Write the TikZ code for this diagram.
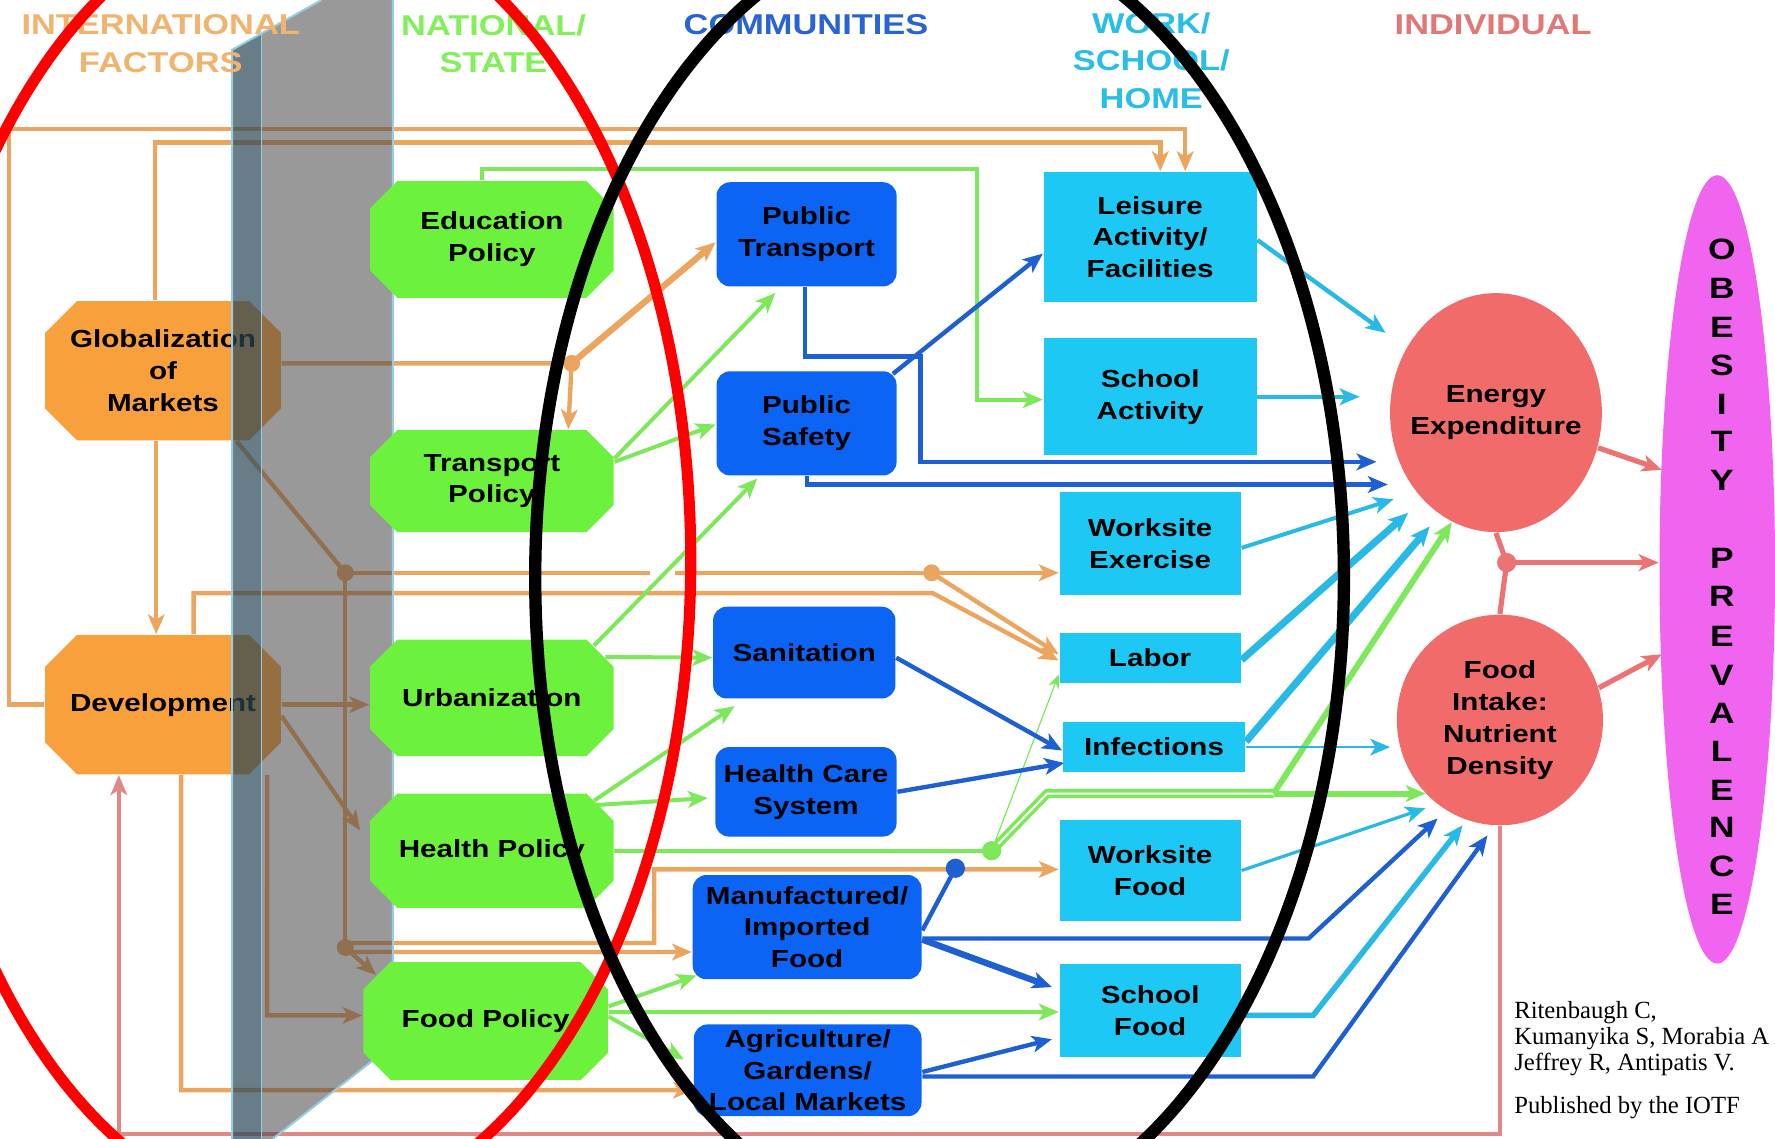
\documentclass[tikz,border=0pt]{standalone}
\usepackage{fontspec}
\newfontfamily\nodefam{Liberation Sans}[FakeStretch=1.2]
\newfontfamily\citefam{Liberation Serif}
\usetikzlibrary{arrows.meta,shapes.geometric}
\newcommand{\NodeFont}{\nodefam\bfseries\fontsize{6.2pt}{8pt}\selectfont}
\newcommand{\HeadFont}{\nodefam\bfseries\fontsize{7.2pt}{9.4pt}\selectfont}
\newcommand{\LetterFont}{\nodefam\bfseries\fontsize{7.4pt}{9pt}\selectfont}
\newcommand{\CiteFont}{\citefam\fontsize{6.2pt}{6.55pt}\selectfont}
\definecolor{cOrF}{RGB}{247,160,60}
\definecolor{cOrL}{RGB}{236,165,95}
\definecolor{cGrF}{RGB}{108,242,60}
\definecolor{cGrL}{RGB}{125,232,90}
\definecolor{cBlF}{RGB}{12,100,245}
\definecolor{cBlL}{RGB}{30,95,210}
\definecolor{cCyF}{RGB}{30,200,245}
\definecolor{cCyL}{RGB}{40,185,230}
\definecolor{cSal}{RGB}{242,107,107}
\definecolor{cSalL}{RGB}{235,115,115}
\definecolor{cPink}{RGB}{225,135,135}
\definecolor{cMag}{RGB}{240,100,240}
\definecolor{hOr}{RGB}{240,180,110}
\definecolor{hGr}{RGB}{130,240,90}
\definecolor{hBl}{RGB}{40,100,210}
\definecolor{hCy}{RGB}{40,190,230}
\definecolor{hRd}{RGB}{225,120,120}
\definecolor{wallF}{RGB}{70,70,70}
\definecolor{wallS}{RGB}{40,70,85}
\definecolor{wallE}{RGB}{150,205,225}
\pgfdeclarelayer{bgl}
\pgfdeclarelayer{wall}
\pgfdeclarelayer{lines}
\pgfdeclarelayer{fgl}
\pgfsetlayers{bgl,wall,lines,main,fgl}
\tikzset{
  octa/.style 2 args={rectangle, inner sep=0pt, align=center, font=\NodeFont, text=black,
    path picture={\fill[#1]
      ([xshift=#2]path picture bounding box.north west) --
      ([xshift=-#2]path picture bounding box.north east) --
      ([yshift=-#2]path picture bounding box.north east) --
      ([yshift=#2]path picture bounding box.south east) --
      ([xshift=-#2]path picture bounding box.south east) --
      ([xshift=#2]path picture bounding box.south west) --
      ([yshift=#2]path picture bounding box.south west) --
      ([yshift=-#2]path picture bounding box.north west) -- cycle;}},
  gocta/.style={octa={cGrF}{0.24cm}},
  oocta/.style={octa={cOrF}{0.28cm}},
  bbox/.style={rectangle, rounded corners=0.12cm, fill=cBlF, inner sep=0pt, align=center, font=\NodeFont, text=black},
  cbox/.style={rectangle, fill=cCyF, inner sep=0pt, align=center, font=\NodeFont, text=black},
  circ/.style={ellipse, fill=cSal, inner sep=0pt},
  txt/.style={align=center, font=\NodeFont, text=black, inner sep=0pt},
  head/.style={align=center, font=\HeadFont, inner sep=0pt},
  ol/.style={draw=cOrL, line width=1.1pt},
  gl/.style={draw=cGrL, line width=1pt},
  bl/.style={draw=cBlL, line width=1.1pt},
  cl/.style={draw=cCyL, line width=1.1pt},
  rl/.style={draw=cSalL, line width=1.3pt},
  pl/.style={draw=cPink, line width=1pt},
}
\begin{document}
\begin{tikzpicture}[x=0.01cm, y=-0.01cm, >={Stealth[length=5pt,width=4.2pt,inset=1.3pt]}]
\useasboundingbox (0,0) rectangle (1568,1006);

% ---------- headers ----------
\node[head, text=hOr] (hint) at (142,38.5) {INTERNATIONAL\\FACTORS};
\node[head, text=hGr] (hnat) at (436,38.5) {NATIONAL/\\STATE};
\node[head, text=hBl] (hcom) at (712,22) {COMMUNITIES};
\node[head, text=hCy] (hwrk) at (1017,53.5) {WORK/\\SCHOOL/\\HOME};
\node[head, text=hRd] (hind) at (1319,22) {INDIVIDUAL};

% ---------- national / state ----------
\node[gocta, minimum width=2.15cm, minimum height=1.03cm] (edu) at (434.5,211.5) {Education\\Policy};
\node[gocta, minimum width=2.15cm, minimum height=0.90cm] (tpol) at (434.5,425) {Transport\\Policy};
\node[gocta, minimum width=2.15cm, minimum height=1.03cm] (urb) at (434.5,616.5) {Urbanization};
\node[gocta, minimum width=2.15cm, minimum height=1.01cm] (hpol) at (434.5,751.5) {Health Policy};
\node[gocta, minimum width=2.16cm, minimum height=1.04cm] (fpol) at (429,902) {Food Policy};

% ---------- communities ----------
\node[bbox, minimum width=1.59cm, minimum height=0.92cm] (ptr) at (712.5,207) {Public\\Transport};
\node[bbox, minimum width=1.59cm, minimum height=0.92cm] (psf) at (712.5,374) {Public\\Safety};
\node[bbox, minimum width=1.61cm, minimum height=0.81cm] (san) at (710.5,576.5) {Sanitation};
\node[bbox, minimum width=1.60cm, minimum height=0.79cm] (hcs) at (712,699.5) {Health Care\\System};
\node[bbox, minimum width=2.02cm, minimum height=0.92cm] (mif) at (713,819) {Manufactured/\\Imported\\Food};
\node[bbox, minimum width=2.01cm, minimum height=0.81cm] (agr) at (713.5,945.5) {Agriculture/\\Gardens/\\Local Markets};

% ---------- work / school / home ----------
\node[cbox, minimum width=1.88cm, minimum height=1.15cm] (lei) at (1016,209.5) {Leisure\\Activity/\\Facilities};
\node[cbox, minimum width=1.88cm, minimum height=1.03cm] (sac) at (1016,350.5) {School\\Activity};
\node[cbox, minimum width=1.60cm, minimum height=0.91cm] (wex) at (1016,480.5) {Worksite\\Exercise};
\node[cbox, minimum width=1.60cm, minimum height=0.44cm] (lab) at (1016,581) {Labor};
\node[cbox, minimum width=1.61cm, minimum height=0.44cm] (inf) at (1019.5,660) {Infections};
\node[cbox, minimum width=1.60cm, minimum height=0.90cm] (wfo) at (1016,769) {Worksite\\Food};
\node[cbox, minimum width=1.60cm, minimum height=0.82cm] (sfo) at (1016,893) {School\\Food};

% ---------- individual ----------
\node[circ, minimum width=1.87cm, minimum height=2.11cm] (ene) at (1321.5,364.5) {};
\node[txt] (enet) at (ene.center) {Energy\\Expenditure};
\node[circ, minimum width=1.82cm, minimum height=1.86cm] (fin) at (1325,636) {};
\node[txt] (fint) at (fin.center) {Food\\Intake:\\Nutrient\\Density};
\node[ellipse, fill=cMag, inner sep=0pt, minimum width=1.02cm, minimum height=6.96cm] (obe) at (1517,503) {};
\foreach \l/\yy in {O/220,B/255,E/289,S/323,I/357,T/390,Y/424,P/493,R/527,E/562,V/597,A/630,L/664,E/698,N/731,C/765,E/799}
  \node[font=\LetterFont, inner sep=0pt] (ob\yy) at (1521,\yy) {\l};

\node[anchor=north west, align=left, font=\CiteFont, inner sep=0pt] (cite) at (1337,884)
  {Ritenbaugh C,\\Kumanyika S, Morabia A\\Jeffrey R, Antipatis V.\\[4.3pt]Published by the IOTF};

% ---------- international factors + orange connectors (behind wall) ----------
\begin{pgfonlayer}{bgl}
\node[oocta, minimum width=2.08cm, minimum height=1.23cm] (glob) at (144,327.5) {Globalization\\of\\Markets};
\node[oocta, minimum width=2.08cm, minimum height=1.23cm] (dev) at (144,622.5) {Development};
\coordinate (dA) at (505,321);
\coordinate (dB) at (305,506);
\coordinate (dC) at (823,506);
\coordinate (dD) at (305,837);
\coordinate (jmpL) at (574,506);
\coordinate (jmpR) at (596,506);
\draw[ol,->] (dev.west) -- (8,622.5) -- (8,114) -- (1047,114) -- (1047,0 |- lei.north);
\draw[ol,->] (137,0 |- glob.north) -- (137,126) -- (1025,126) -- (1025,0 |- lei.north);
\draw[ol] ([yshift=0.065cm]glob.east) -- (dA);
\draw[ol,line width=1.6pt,->] (dA) -- ([yshift=-0.07cm]ptr.west);
\draw[ol,->] (dA) -- (502,0 |- tpol.north);
\draw[ol] (209,0 |- glob.south) -- (dB);
\draw[ol] (dB) -- (jmpL);
\draw[ol,->] (jmpR) -- (wex.west |- dB);
\draw[ol] (dB) -- (dD);
\draw[ol,->] (171,0 |- dev.north) -- (171,524) -- (824,524) -- ([yshift=-0.025cm]lab.west);
\draw[ol,->] (dC) -- ([yshift=0.03cm]lab.west);
\draw[ol,->] (138,0 |- glob.south) -- (138,0 |- dev.north);
\draw[ol,->] (dev.east) -- (urb.west |- dev.east);
\draw[ol,->] ([yshift=-0.1cm]dev.east) -- ([xshift=-0.08cm,yshift=0.18cm]hpol.west);
\draw[ol,->] ([xshift=0.92cm]dev.south) -- (236,897) -- (fpol.west |- 0,897);
\draw[ol,->] ([xshift=0.16cm]dev.south) -- (160,963) -- (agr.west |- 0,963);
\draw[ol,->] (dD) -- ([xshift=0.12cm,yshift=-0.12cm]fpol.north west);
\draw[ol,->] ([yshift=0.04cm]dD) -- (578,833) -- (578,768) -- (wfo.west |- 0,768);
\draw[ol,->] ([yshift=-0.04cm]dD) -- (mif.west |- 0,841);
\foreach \d in {dA,dB,dC,dD} \fill[cOrL] (\d) circle[radius=0.075cm];
\draw[pl,->] (fin.south) -- (1325,1002) -- (105,1002) -- (105,0 |- dev.south);
\end{pgfonlayer}

% ---------- the wall ----------
\begin{pgfonlayer}{wall}
\fill[wallF, fill opacity=0.55] (231,29.5) -- (284,0) -- (347,0) -- (347,923) -- (241,1006) -- (231,1006) -- cycle;
\fill[wallS, fill opacity=0.7] (205,1006) -- (205,44) -- (231,29.5) -- (231,1006) -- cycle;
\draw[wallE, line width=0.5pt] (205,1006) -- (205,44) -- (284,0);
\draw[wallE, line width=0.5pt] (231,29.5) -- (231,1006);
\draw[wallE, line width=0.5pt] (347,0) -- (347,923) -- (241,1006);
\end{pgfonlayer}

% ---------- other connectors ----------
\begin{pgfonlayer}{lines}
\coordinate (dG) at (876,751.5);
\coordinate (gBr) at (1125,701);
\coordinate (dBl) at (844,767);
\coordinate (rD) at (1331,497);
% green
\draw[gl,->] (426,0 |- edu.north) -- (426,149) -- (863,149) -- (863,353) -- (sac.west |- 0,353);
\draw[gl,->] ([yshift=0.2cm]tpol.east) -- ([xshift=-0.275cm,yshift=-0.05cm]ptr.south);
\draw[gl,->] ([yshift=0.17cm]tpol.east) -- ([yshift=-0.01cm]psf.west);
\draw[gl,->] ([xshift=-0.18cm,yshift=-0.06cm]urb.north east) -- ([xshift=-0.435cm,yshift=-0.02cm]psf.south);
\draw[gl,->] ([xshift=-0.08cm,yshift=-0.16cm]urb.north east) -- (san.west |- 0,581);
\draw[gl,->] ([xshift=-0.18cm,yshift=-0.07cm]hpol.north east) -- ([xshift=-0.615cm,yshift=-0.06cm]san.south);
\draw[gl,->] ([xshift=-0.18cm,yshift=-0.11cm]hpol.north east) -- ([xshift=-0.06cm,yshift=-0.055cm]hcs.west);
\draw[gl] (hpol.east) -- (dG);
\draw[draw=cGrL, line width=0.3pt, -{Stealth[length=3.5pt,width=2.8pt]}] (dG) -- ([yshift=0.08cm]lab.south west);
\draw[draw=cGrL, line width=0.9pt, double=white, double distance=0.5pt] (dG) -- (925,701) -- (gBr);
\draw[gl, line width=1.5pt, ->] (gBr) -- (gBr -| fin.225);
\draw[gl, line width=1.5pt, ->] (gBr) -- (ene.248);
\draw[gl,->] ([yshift=0.13cm]fpol.east) -- ([xshift=0.04cm,yshift=0.04cm]mif.south west);
\draw[gl,->] ([yshift=0.08cm]fpol.east) -- (sfo.west |- 0,894);
\draw[gl,->] ([yshift=0.04cm]fpol.east) -- ([xshift=-0.08cm,yshift=0.095cm]agr.west);
\fill[cGrL] (dG) circle[radius=0.085cm];
% blue
\draw[bl,->] (711,0 |- ptr.south) -- (711,315) -- (813,315) -- (813,408) -- (1216,408);
\draw[bl,->] ([xshift=-0.04cm,yshift=-0.03cm]psf.north east) -- ([yshift=-0.145cm]lei.west);
\draw[bl,->] (713,0 |- psf.south) -- (713,428) -- (1226,428);
\draw[bl,->] ([yshift=-0.045cm]san.east) -- ([yshift=-0.03cm]inf.west);
\draw[bl,->] (hcs.east) -- ([xshift=0.02cm,yshift=-0.14cm]inf.west);
\draw[bl] ([yshift=-0.03cm]mif.east) -- (dBl);
\fill[cBlL] (dBl) circle[radius=0.085cm];
\draw[bl,->] ([yshift=-0.1cm]mif.east) -- (1156,829) -- (1270,723);
\draw[bl,line width=1.6pt,->] ([yshift=-0.11cm]mif.east) -- ([xshift=-0.06cm,yshift=0.21cm]sfo.west);
\draw[bl,->] ([yshift=-0.015cm]agr.east) -- ([xshift=-0.06cm,yshift=-0.25cm]sfo.west);
\draw[bl,->] ([yshift=-0.055cm]agr.east) -- (1160,951) -- (1314,738);
% cyan
\draw[cl,->] ([yshift=-0.025cm]lei.east) -- (1224,294);
\draw[cl,->] (sac.east) -- (1201,350.5);
\draw[cl,line width=1pt,->] ([yshift=-0.035cm]wex.east) -- (1231,441);
\draw[cl,line width=1.8pt,->] ([yshift=-0.02cm]lab.east) -- (1244,453);
\draw[cl,line width=1.8pt,->] ([yshift=0.05cm]inf.east) -- (1263,465);
\draw[cl,line width=0.5pt,->] (inf.east) -- (1228,660);
\draw[cl,line width=0.8pt,->] (wfo.east) -- (1259,714);
\draw[cl,line width=1.4pt,->] ([yshift=-0.04cm]sfo.east) -- (1160,897) -- (1292,729);
% red
\draw[rl,->] (ene.-19) -- (1468,415);
\draw[rl,->] (fin.18) -- (1468,578);
\draw[rl] (ene.south) -- (rD);
\draw[rl] (fin.north) -- (rD);
\draw[rl,->] (rD) -- (obe.west |- rD);
\fill[cSalL] (rD) circle[radius=0.085cm];
\end{pgfonlayer}

% ---------- overlay ellipses ----------
\begin{pgfonlayer}{fgl}
\draw[red, line width=2.8pt] (265,495) ellipse [x radius=3.45cm, y radius=5.78cm];
\draw[black, line width=3.1pt] (830,510) ellipse [x radius=3.57cm, y radius=5.76cm];
\end{pgfonlayer}
\end{tikzpicture}
\end{document}
